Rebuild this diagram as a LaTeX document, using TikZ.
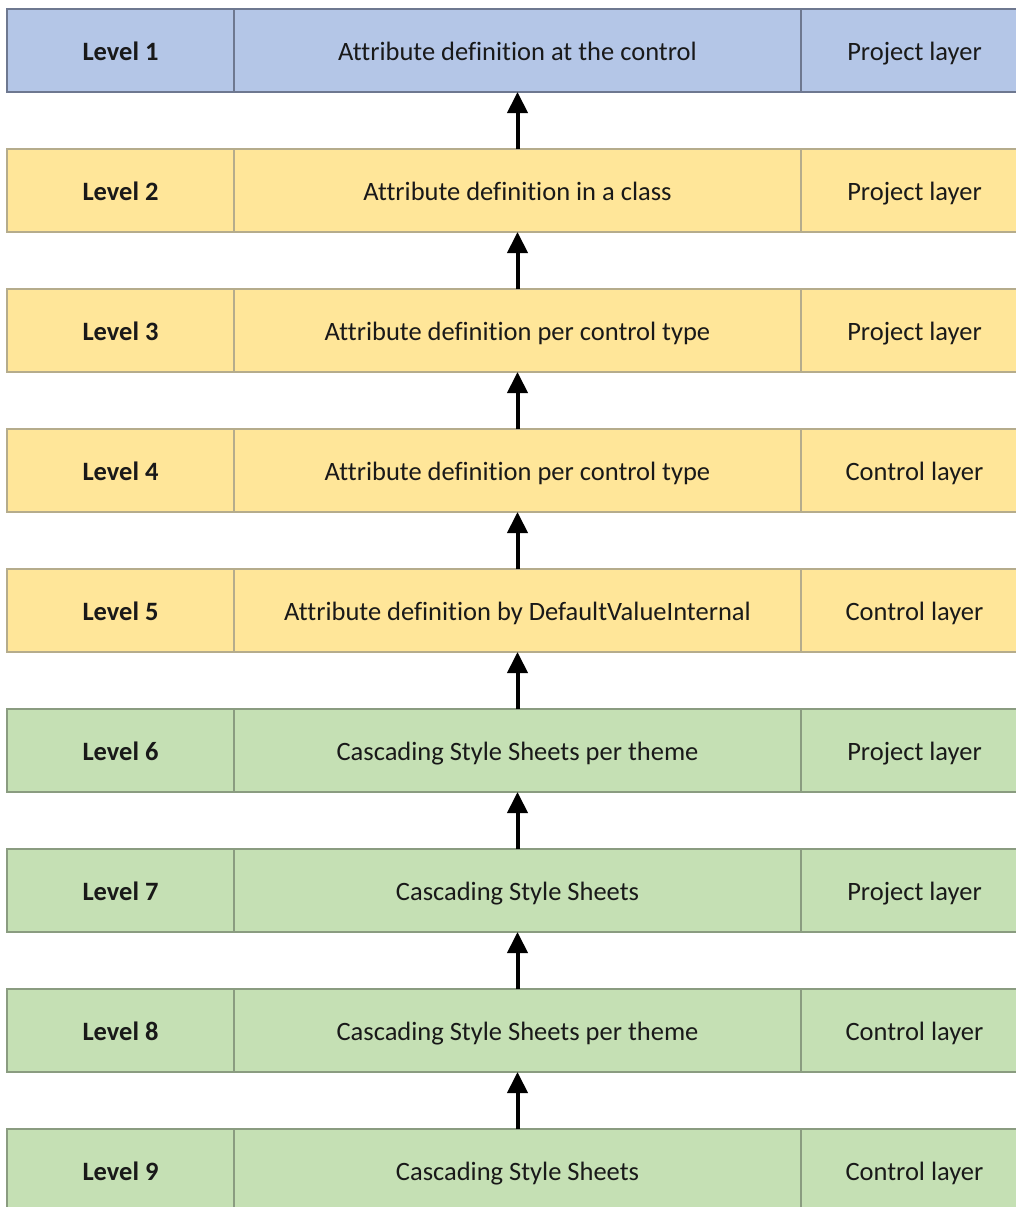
\documentclass[tikz,border=0pt]{standalone}
\usepackage{fontspec}
\setmainfont[Ligatures={NoCommon}]{Carlito}
\usetikzlibrary{arrows.meta}
\definecolor{rowblue}{HTML}{B4C6E7}
\definecolor{rowyellow}{HTML}{FFE699}
\definecolor{rowgreen}{HTML}{C5E0B4}
\definecolor{edgeblue}{HTML}{6E7890}
\definecolor{edgeyellow}{HTML}{B5AC8C}
\definecolor{edgegreen}{HTML}{8A9C80}
\tikzset{
  cell/.style={rectangle, inner sep=0pt, outer sep=0pt, line width=1.2pt,
     font=\fontsize{26.5}{32}\selectfont, text=black!90, minimum height=83pt,
     text height=22pt, text depth=3pt},
  lvl/.style={cell, minimum width=227pt, font=\fontsize{26.5}{32}\selectfont\bfseries},
  mid/.style={cell, minimum width=567pt},
  lay/.style={cell, minimum width=227pt},
  blue/.style={fill=rowblue, draw=edgeblue},
  yel/.style={fill=rowyellow, draw=edgeyellow},
  grn/.style={fill=rowgreen, draw=edgegreen},
  up/.style={-{Triangle[length=21pt,width=20pt]}, line width=4pt, black}
}
\begin{document}
\begin{tikzpicture}[x=1pt,y=-1pt]
\useasboundingbox (0,0) rectangle (1016,1207);
\clip (0,0) rectangle (1016,1207);
\foreach \i/\st/\mtext/\rtext in {
  1/blue/Attribute definition at the control/Project layer,
  2/yel/Attribute definition in a class/Project layer,
  3/yel/Attribute definition per control type/Project layer,
  4/yel/Attribute definition per control type/Control layer,
  5/yel/Attribute definition by DefaultValueInternal/Control layer,
  6/grn/Cascading Style Sheets per theme/Project layer,
  7/grn/Cascading Style Sheets/Project layer,
  8/grn/Cascading Style Sheets per theme/Control layer,
  9/grn/Cascading Style Sheets/Control layer}{
  \pgfmathsetmacro{\yc}{50.5+140*(\i-1)}
  \node[lvl,\st] (l\i) at (120.5,\yc) {Level \i};
  \node[mid,\st] (m\i) at (517.5,\yc) {\mtext};
  \node[lay,\st] (r\i) at (914.5,\yc) {\rtext};
}
\foreach \i [evaluate=\i as \j using int(\i+1)] in {1,...,8}{
  \draw[up] (m\j.north) -- (m\i.south);
}
\end{tikzpicture}
\end{document}
